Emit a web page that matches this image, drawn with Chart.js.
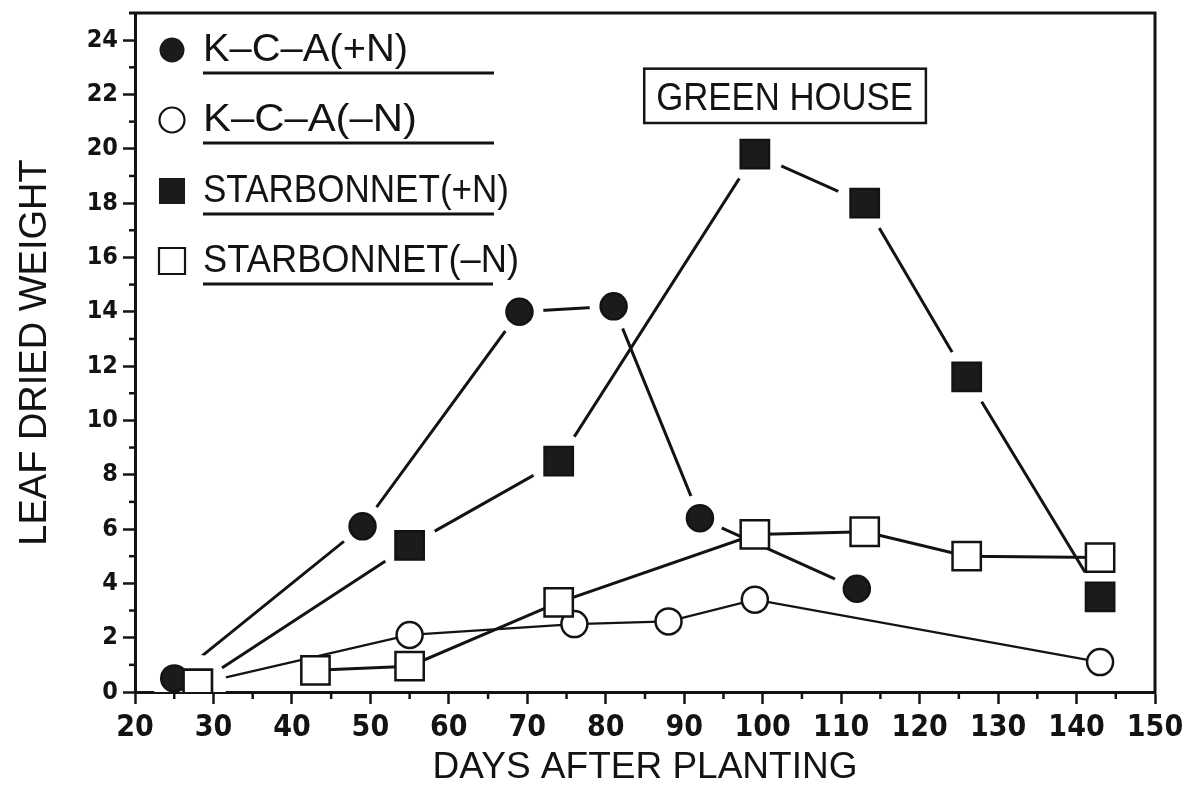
<!DOCTYPE html>
<html>
<head>
<meta charset="utf-8">
<script src="https://cdn.jsdelivr.net/npm/chart.js@4.4.1/dist/chart.umd.min.js"></script>
<style>
  html, body { margin: 0; padding: 0; background: #ffffff; }
  #wrap { width: 1186px; height: 786px; position: relative; }
</style>
</head>
<body>
<div id="wrap"><canvas id="c" width="1186" height="786"></canvas></div>
<script>
// ---------------- data ----------------
const xTickLabels = [20, 30, 40, 50, 60, 70, 80, 90, 100, 110, 120, 130, 140, 150];
const yTickLabels = [0, 2, 4, 6, 8, 10, 12, 14, 16, 18, 20, 22, 24];

const seriesNames = ['K–C–A(+N)', 'K–C–A(–N)', 'STARBONNET(+N)', 'STARBONNET(–N)'];

const kcaPlusDays   = [25, 49, 69, 81, 92, 112];
const kcaPlusWeight = [0.5, 6.1, 14.0, 14.2, 6.4, 3.8];

const kcaMinusDays   = [28, 55, 76, 88, 99, 143];
const kcaMinusWeight = [0.3, 2.1, 2.5, 2.6, 3.4, 1.1];

const starPlusDays   = [28, 55, 74, 99, 113, 126, 143];
const starPlusWeight = [0.3, 5.4, 8.5, 19.8, 18.0, 11.6, 3.5];

const starMinusDays   = [28, 43, 55, 74, 99, 113, 126, 143];
const starMinusWeight = [0.3, 0.8, 0.95, 3.3, 5.8, 5.9, 5.0, 4.95];

const xTitle = 'DAYS AFTER PLANTING';
const yTitle = 'LEAF DRIED WEIGHT';
const boxLabel = 'GREEN HOUSE';

// ---------------- styling ----------------
const ink = '#131313';
const fillInk = '#1b1b1b';
const textFamily = '"Liberation Sans", Arial, "DejaVu Sans", sans-serif';
const tickFamily = '"Liberation Sans Narrow", "DejaVu Sans Condensed", "Liberation Sans", sans-serif';

function pts(xs, ys) { return xs.map((x, i) => ({ x: x, y: ys[i] })); }

const kcaPlus = pts(kcaPlusDays, kcaPlusWeight);
const kcaMinus = pts(kcaMinusDays, kcaMinusWeight);
const starPlus = pts(starPlusDays, starPlusWeight);
const starMinus = pts(starMinusDays, starMinusWeight);

function lineSet(label, data, width, extra) {
  return Object.assign({
    label: label, data: data, showLine: true, borderColor: ink, borderWidth: width,
    pointRadius: 0, pointHoverRadius: 0, order: 3, fill: false, tension: 0
  }, extra || {});
}
function haloSet(label, data, radius) {
  return {
    label: label + ' halo', data: data, showLine: false, pointStyle: 'circle',
    pointRadius: radius, pointHoverRadius: radius, pointBackgroundColor: '#ffffff',
    pointBorderColor: '#ffffff', pointBorderWidth: 0, order: 2
  };
}
function markerSet(label, data, style, radius, filled, order) {
  return {
    label: label + ' marker', data: data, showLine: false, pointStyle: style,
    pointRadius: radius, pointHoverRadius: radius,
    pointBackgroundColor: filled ? fillInk : '#ffffff',
    pointBorderColor: ink, pointBorderWidth: 2.5, order: order
  };
}

const datasets = [
  lineSet(seriesNames[0], kcaPlus, 3),
  lineSet(seriesNames[1], kcaMinus, 2.2),
  lineSet(seriesNames[2], starPlus, 3),
  lineSet(seriesNames[3], starMinus, 3, {
    segment: { borderColor: ctx => ctx.p0DataIndex === 0 ? 'rgba(0,0,0,0)' : undefined }
  }),
  haloSet(seriesNames[0], kcaPlus, 24),
  haloSet(seriesNames[2], starPlus, 29),
  markerSet(seriesNames[3], starMinus, 'rect', 20, false, 0),
  markerSet(seriesNames[1], kcaMinus, 'circle', 13, false, 1),
  markerSet(seriesNames[0], kcaPlus, 'circle', 13, true, 1),
  markerSet(seriesNames[2], starPlus, 'rect', 20, true, 1)
];

function fitText(ctx, text, x, y, w, font) {
  ctx.font = font;
  const m = ctx.measureText(text).width;
  ctx.save();
  ctx.translate(x, y);
  ctx.scale(w / m, 1);
  ctx.fillText(text, 0, 0);
  ctx.restore();
}

// frame (top + right), minor ticks
const framePlugin = {
  id: 'frame',
  beforeDatasetsDraw(chart) {
    const ctx = chart.ctx;
    const a = chart.chartArea;
    ctx.save();
    ctx.strokeStyle = ink;
    ctx.lineWidth = 3;
    ctx.beginPath();
    ctx.moveTo(a.left - 6, a.top);
    ctx.lineTo(a.right, a.top);
    ctx.lineTo(a.right, a.bottom + 1.5);
    ctx.stroke();
    // minor ticks
    ctx.lineWidth = 2.5;
    const xs = chart.scales.x, ys = chart.scales.y;
    xs.ticks.forEach(t => {
      if (t.value % 10 !== 0) {
        const px = xs.getPixelForValue(t.value);
        ctx.beginPath(); ctx.moveTo(px, a.bottom); ctx.lineTo(px, a.bottom + 7); ctx.stroke();
      }
    });
    ys.ticks.forEach(t => {
      if (t.value % 2 !== 0 && t.value < 25) {
        const py = ys.getPixelForValue(t.value);
        ctx.beginPath(); ctx.moveTo(a.left - 6, py); ctx.lineTo(a.left, py); ctx.stroke();
      }
    });
    ctx.restore();
  }
};

// legend + label box
const overlayPlugin = {
  id: 'overlay',
  afterDraw(chart) {
    const ctx = chart.ctx;
    ctx.save();
    ctx.fillStyle = ink;
    ctx.strokeStyle = ink;
    ctx.textAlign = 'left';
    ctx.textBaseline = 'alphabetic';
    const baselines = [61, 131, 202, 272];
    const widths = [205, 214, 306, 316];
    const lineEnds = [494, 494, 494, 493];
    const styles = ['circle', 'circle', 'rect', 'rect'];
    const filled = [true, false, true, false];
    for (let i = 0; i < 4; i++) {
      const b = baselines[i];
      fitText(ctx, seriesNames[i], 203, b, widths[i], '38px ' + textFamily);
      ctx.lineWidth = 3;
      ctx.beginPath(); ctx.moveTo(203, b + 12); ctx.lineTo(lineEnds[i], b + 12); ctx.stroke();
      const cx = 172, cy = b - 11;
      ctx.lineWidth = 2.2;
      ctx.beginPath();
      if (styles[i] === 'circle') {
        ctx.arc(cx, cy, 12.5, 0, Math.PI * 2);
      } else {
        ctx.rect(cx - 13, cy - 13, 26, 26);
      }
      if (filled[i]) { ctx.fillStyle = fillInk; ctx.fill(); ctx.fillStyle = ink; }
      else { ctx.fillStyle = '#fff'; ctx.fill(); ctx.fillStyle = ink; ctx.stroke(); }
    }
    // GREEN HOUSE box
    const xs = chart.scales.x, ys = chart.scales.y;
    const l = xs.getPixelForValue(84.9), r = xs.getPixelForValue(120.8);
    const t = ys.getPixelForValue(22.95), bt = ys.getPixelForValue(20.95);
    ctx.lineWidth = 2.5;
    ctx.strokeRect(l, t, r - l, bt - t);
    fitText(ctx, boxLabel, l + 12, bt - 13, r - l - 25, '39px ' + textFamily);
    ctx.restore();
  }
};

new Chart(document.getElementById('c'), {
  type: 'scatter',
  data: { datasets: datasets },
  plugins: [framePlugin, overlayPlugin],
  options: {
    responsive: false,
    animation: false,
    devicePixelRatio: 1,
    events: [],
    layout: { autoPadding: false, padding: { left: 0, right: 31, top: 13, bottom: 0 } },
    plugins: { legend: { display: false }, tooltip: { enabled: false } },
    scales: {
      x: {
        type: 'linear', min: 20, max: 150,
        afterFit(s) { s.height = 94; s.paddingLeft = 0; s.paddingRight = 0; },
        ticks: {
          stepSize: 5, autoSkip: false, maxRotation: 0, padding: 6, color: ink,
          font: { family: tickFamily, size: 30, weight: 'bold' },
          callback: v => xTickLabels.includes(v) ? String(v) : ''
        },
        grid: {
          drawOnChartArea: false, drawTicks: true, tickLength: 12, tickWidth: 2.5,
          tickColor: c => (c.tick && c.tick.value % 10 === 0) ? ink : 'rgba(0,0,0,0)'
        },
        border: { display: true, color: ink, width: 3 },
        title: {
          display: true, text: xTitle, color: ink,
          font: { family: textFamily, size: 37, lineHeight: 1 },
          padding: { top: 0, bottom: 0 }
        }
      },
      y: {
        type: 'linear', min: 0, max: 25,
        afterFit(s) { s.width = 135; s.paddingTop = 0; s.paddingBottom = 0; },
        ticks: {
          stepSize: 1, autoSkip: false, padding: 5, color: ink,
          font: { family: tickFamily, size: 25, weight: 'bold', lineHeight: 1 },
          callback: v => yTickLabels.includes(v) ? String(v) : ''
        },
        grid: {
          drawOnChartArea: false, drawTicks: true, tickLength: 12, tickWidth: 2.5,
          tickColor: c => (c.tick && c.tick.value % 2 === 0 && c.tick.value <= 24) ? ink : 'rgba(0,0,0,0)'
        },
        border: { display: true, color: ink, width: 3 },
        title: {
          display: true, text: yTitle, color: ink,
          font: { family: textFamily, size: 38, lineHeight: 1 },
          padding: { top: 17, bottom: 0 }
        }
      }
    }
  }
});
</script>
</body>
</html>
